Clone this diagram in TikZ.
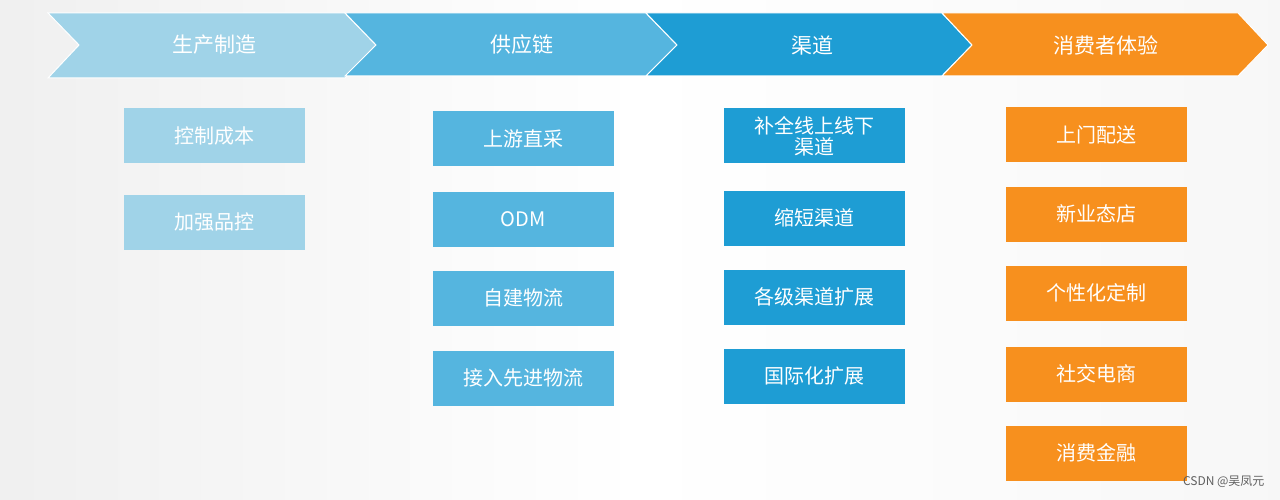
\documentclass[tikz,border=0pt]{standalone}
\usepackage{fontspec}
\setmainfont{Noto Sans CJK SC}
\definecolor{cA}{HTML}{A0D3E8}
\definecolor{cB}{HTML}{55B5DF}
\definecolor{cC}{HTML}{1E9DD4}
\definecolor{cD}{HTML}{F7901E}
\begin{document}
\begin{tikzpicture}[x=1pt,y=-1pt,
  box/.style={minimum width=181pt,minimum height=55pt,inner sep=0pt,text=white,font=\fontsize{20}{21}\selectfont,align=center},
  head/.style={text=white,font=\fontsize{21}{22}\selectfont},
  chev/.style={draw=white,line width=1pt}]
\useasboundingbox (0,0) rectangle (1280,500);
\shade[left color=gray!12,right color=gray!6,middle color=white] (0,0) rectangle (1280,500);
\fill[chev,fill=cA] (48,13)--(345,13)--(376,45)--(345,78)--(48,78)--(79,45)--cycle;
\fill[chev,fill=cB] (345,13)--(646,13)--(677,45)--(646,76)--(345,76)--(376,45)--cycle;
\fill[chev,fill=cC] (646,13)--(942,13)--(972,45)--(942,76)--(646,76)--(677,45)--cycle;
\fill[chev,fill=cD] (942,13)--(1238,13)--(1268,45)--(1238,76)--(942,76)--(972,45)--cycle;
\node[head] (h1) at (214,45) {生产制造};
\node[head] (h2) at (522,45) {供应链};
\node[head] (h3) at (812,45) {渠道};
\node[head] (h4) at (1106,45) {消费者体验};
\node[box,fill=cA] (a1) at (214,136) {控制成本};
\node[box,fill=cA] (a2) at (214,222) {加强品控};
\node[box,fill=cB] (b1) at (523,139) {上游直采};
\node[box,fill=cB] (b2) at (523,219) {ODM};
\node[box,fill=cB] (b3) at (523,298) {自建物流};
\node[box,fill=cB] (b4) at (523,378) {接入先进物流};
\node[box,fill=cC,font=\fontsize{20}{21}\selectfont] (c1) at (814,136) {补全线上线下\\渠道};
\node[box,fill=cC] (c2) at (814,218) {缩短渠道};
\node[box,fill=cC] (c3) at (814,297) {各级渠道扩展};
\node[box,fill=cC] (c4) at (814,376) {国际化扩展};
\node[box,fill=cD] (d1) at (1096,135) {上门配送};
\node[box,fill=cD] (d2) at (1096,214) {新业态店};
\node[box,fill=cD] (d3) at (1096,293) {个性化定制};
\node[box,fill=cD] (d4) at (1096,374) {社交电商};
\node[box,fill=cD] (d5) at (1096,453) {消费金融};
\node[text=gray!75!black,font=\fontsize{12}{13}\selectfont,anchor=east] (wm) at (1268,482) {CSDN @吴凤元};
\end{tikzpicture}
\end{document}
